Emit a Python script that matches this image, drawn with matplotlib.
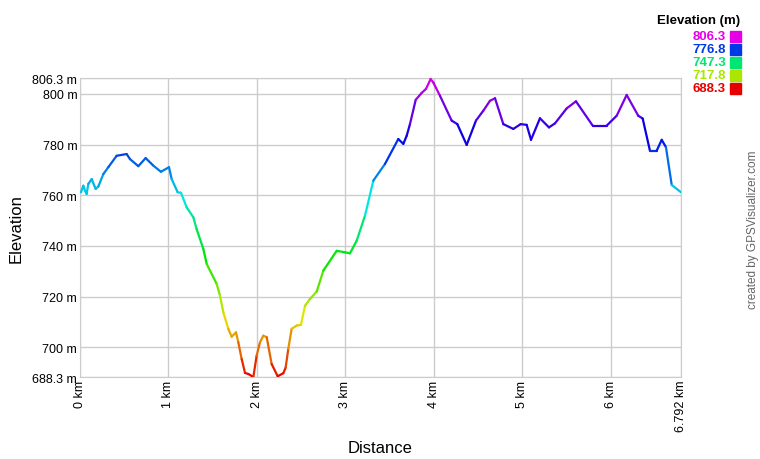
import numpy as np
import matplotlib.pyplot as plt
from matplotlib.collections import LineCollection
from matplotlib.colors import hsv_to_rgb

plt.rcParams['font.family'] = ['Liberation Sans', 'DejaVu Sans']

# profile (distance in km, elevation in m)
dist_km = [0.011, 0.038, 0.057, 0.075, 0.094, 0.132, 0.177, 0.207, 0.264, 0.320,
           0.414, 0.527, 0.565, 0.659, 0.742, 0.829, 0.915, 1.006, 1.036, 1.104,
           1.141, 1.205, 1.281, 1.318, 1.394, 1.432, 1.545, 1.582, 1.620, 1.676,
           1.714, 1.763, 1.789, 1.827, 1.865, 1.902, 1.959, 1.996, 2.034, 2.072,
           2.110, 2.166, 2.234, 2.298, 2.324, 2.354, 2.392, 2.449, 2.497, 2.543,
           2.599, 2.675, 2.750, 2.901, 2.995, 3.051, 3.127, 3.221, 3.315, 3.447,
           3.597, 3.654, 3.692, 3.729, 3.794, 3.861, 3.910, 3.963, 3.993, 4.068,
           4.200, 4.264, 4.370, 4.475, 4.558, 4.633, 4.690, 4.784, 4.897, 4.980,
           5.048, 5.097, 5.198, 5.300, 5.368, 5.500, 5.605, 5.794, 5.952, 6.065,
           6.178, 6.309, 6.359, 6.441, 6.517, 6.574, 6.622, 6.687, 6.792]
elev_m = [761.2, 763.8, 761.8, 760.5, 764.5, 766.4, 762.5, 763.5, 768.4, 771.1,
          775.6, 776.3, 774.3, 771.5, 774.7, 771.7, 769.3, 771.1, 766.4, 761.2,
          761.0, 755.3, 751.3, 746.7, 738.8, 732.9, 725.0, 720.4, 713.8, 707.3,
          704.2, 705.9, 702.0, 695.4, 689.9, 689.5, 688.3, 696.7, 702.0, 704.6,
          704.0, 693.4, 688.6, 689.8, 692.0, 699.4, 707.3, 708.6, 708.9, 716.4,
          719.1, 722.0, 730.3, 738.1, 737.5, 737.1, 742.1, 752.0, 765.8, 772.4,
          782.2, 780.3, 783.5, 788.1, 797.7, 800.4, 802.0, 805.9, 804.5, 799.3,
          789.5, 788.1, 779.9, 789.5, 793.4, 797.3, 798.3, 788.1, 786.2, 788.1,
          787.8, 781.9, 790.4, 786.8, 788.4, 794.3, 797.1, 787.5, 787.5, 791.4,
          799.6, 791.4, 790.3, 777.6, 777.6, 781.9, 779.0, 764.1, 761.2]

elev_min, elev_max = 688.3, 806.3
dist_max = 6.792
y_ticks = [688.3, 700, 720, 740, 760, 780, 800, 806.3]
x_ticks = [0, 1, 2, 3, 4, 5, 6, 6.792]
legend_vals = [806.3, 776.8, 747.3, 717.8, 688.3]


def elev_color(e):
    # red -> yellow -> green -> blue -> magenta
    h = (e - elev_min) / (elev_max - elev_min) * 300 / 360
    return hsv_to_rgb([h, 1.0, 0.9])


fig = plt.figure(figsize=(7.6, 4.6), dpi=100)
ax = fig.add_axes([80 / 760, 1 - 378 / 460, 601 / 760, 299 / 460])

x = np.array(dist_km)
y = np.array(elev_m)
pts = np.column_stack([x, y]).reshape(-1, 1, 2)
segs = np.concatenate([pts[:-1], pts[1:]], axis=1)
cols = [elev_color((a + b) / 2) for a, b in zip(y[:-1], y[1:])]
lc = LineCollection(segs, colors=cols, linewidths=1.6, capstyle='round', joinstyle='round', zorder=3)
ax.add_collection(lc)

ax.set_xlim(0, dist_max)
ax.set_ylim(elev_min, elev_max)
ax.set_yticks(y_ticks)
ax.set_yticklabels([('%g m' % v) for v in y_ticks], fontsize=9)
ax.set_xticks(x_ticks)
ax.set_xticklabels([('%g km' % v) for v in x_ticks], fontsize=9, rotation=90)
ax.tick_params(length=0, pad=2)
ax.grid(True, color='#cccccc', linewidth=1)
for s in ax.spines.values():
    s.set_color('#cccccc')
ax.set_ylabel('Elevation', fontsize=12, labelpad=6)
ax.set_xlabel('Distance', fontsize=12, labelpad=6)

# colour legend in the top right corner
fig.text(740 / 760, 1 - 21 / 460, 'Elevation (m)', fontsize=9.5, fontweight='bold',
         ha='right', va='center')
for i, v in enumerate(legend_vals):
    yy = 1 - (37 + i * 13) / 460
    c = elev_color(v)
    fig.text(726 / 760, yy, '%.1f' % v, color=c, fontsize=9.5, fontweight='bold',
             ha='right', va='center')
    fig.patches.append(plt.Rectangle((730 / 760, yy - 5.5 / 460), 11 / 760, 11 / 460,
                                     transform=fig.transFigure, color=c))

fig.text(753 / 760, 1 - 230 / 460, 'created by GPSVisualizer.com', rotation=90,
         fontsize=8.5, color='#666666', ha='center', va='center')

fig.savefig('out.png', dpi=100, facecolor='white')
